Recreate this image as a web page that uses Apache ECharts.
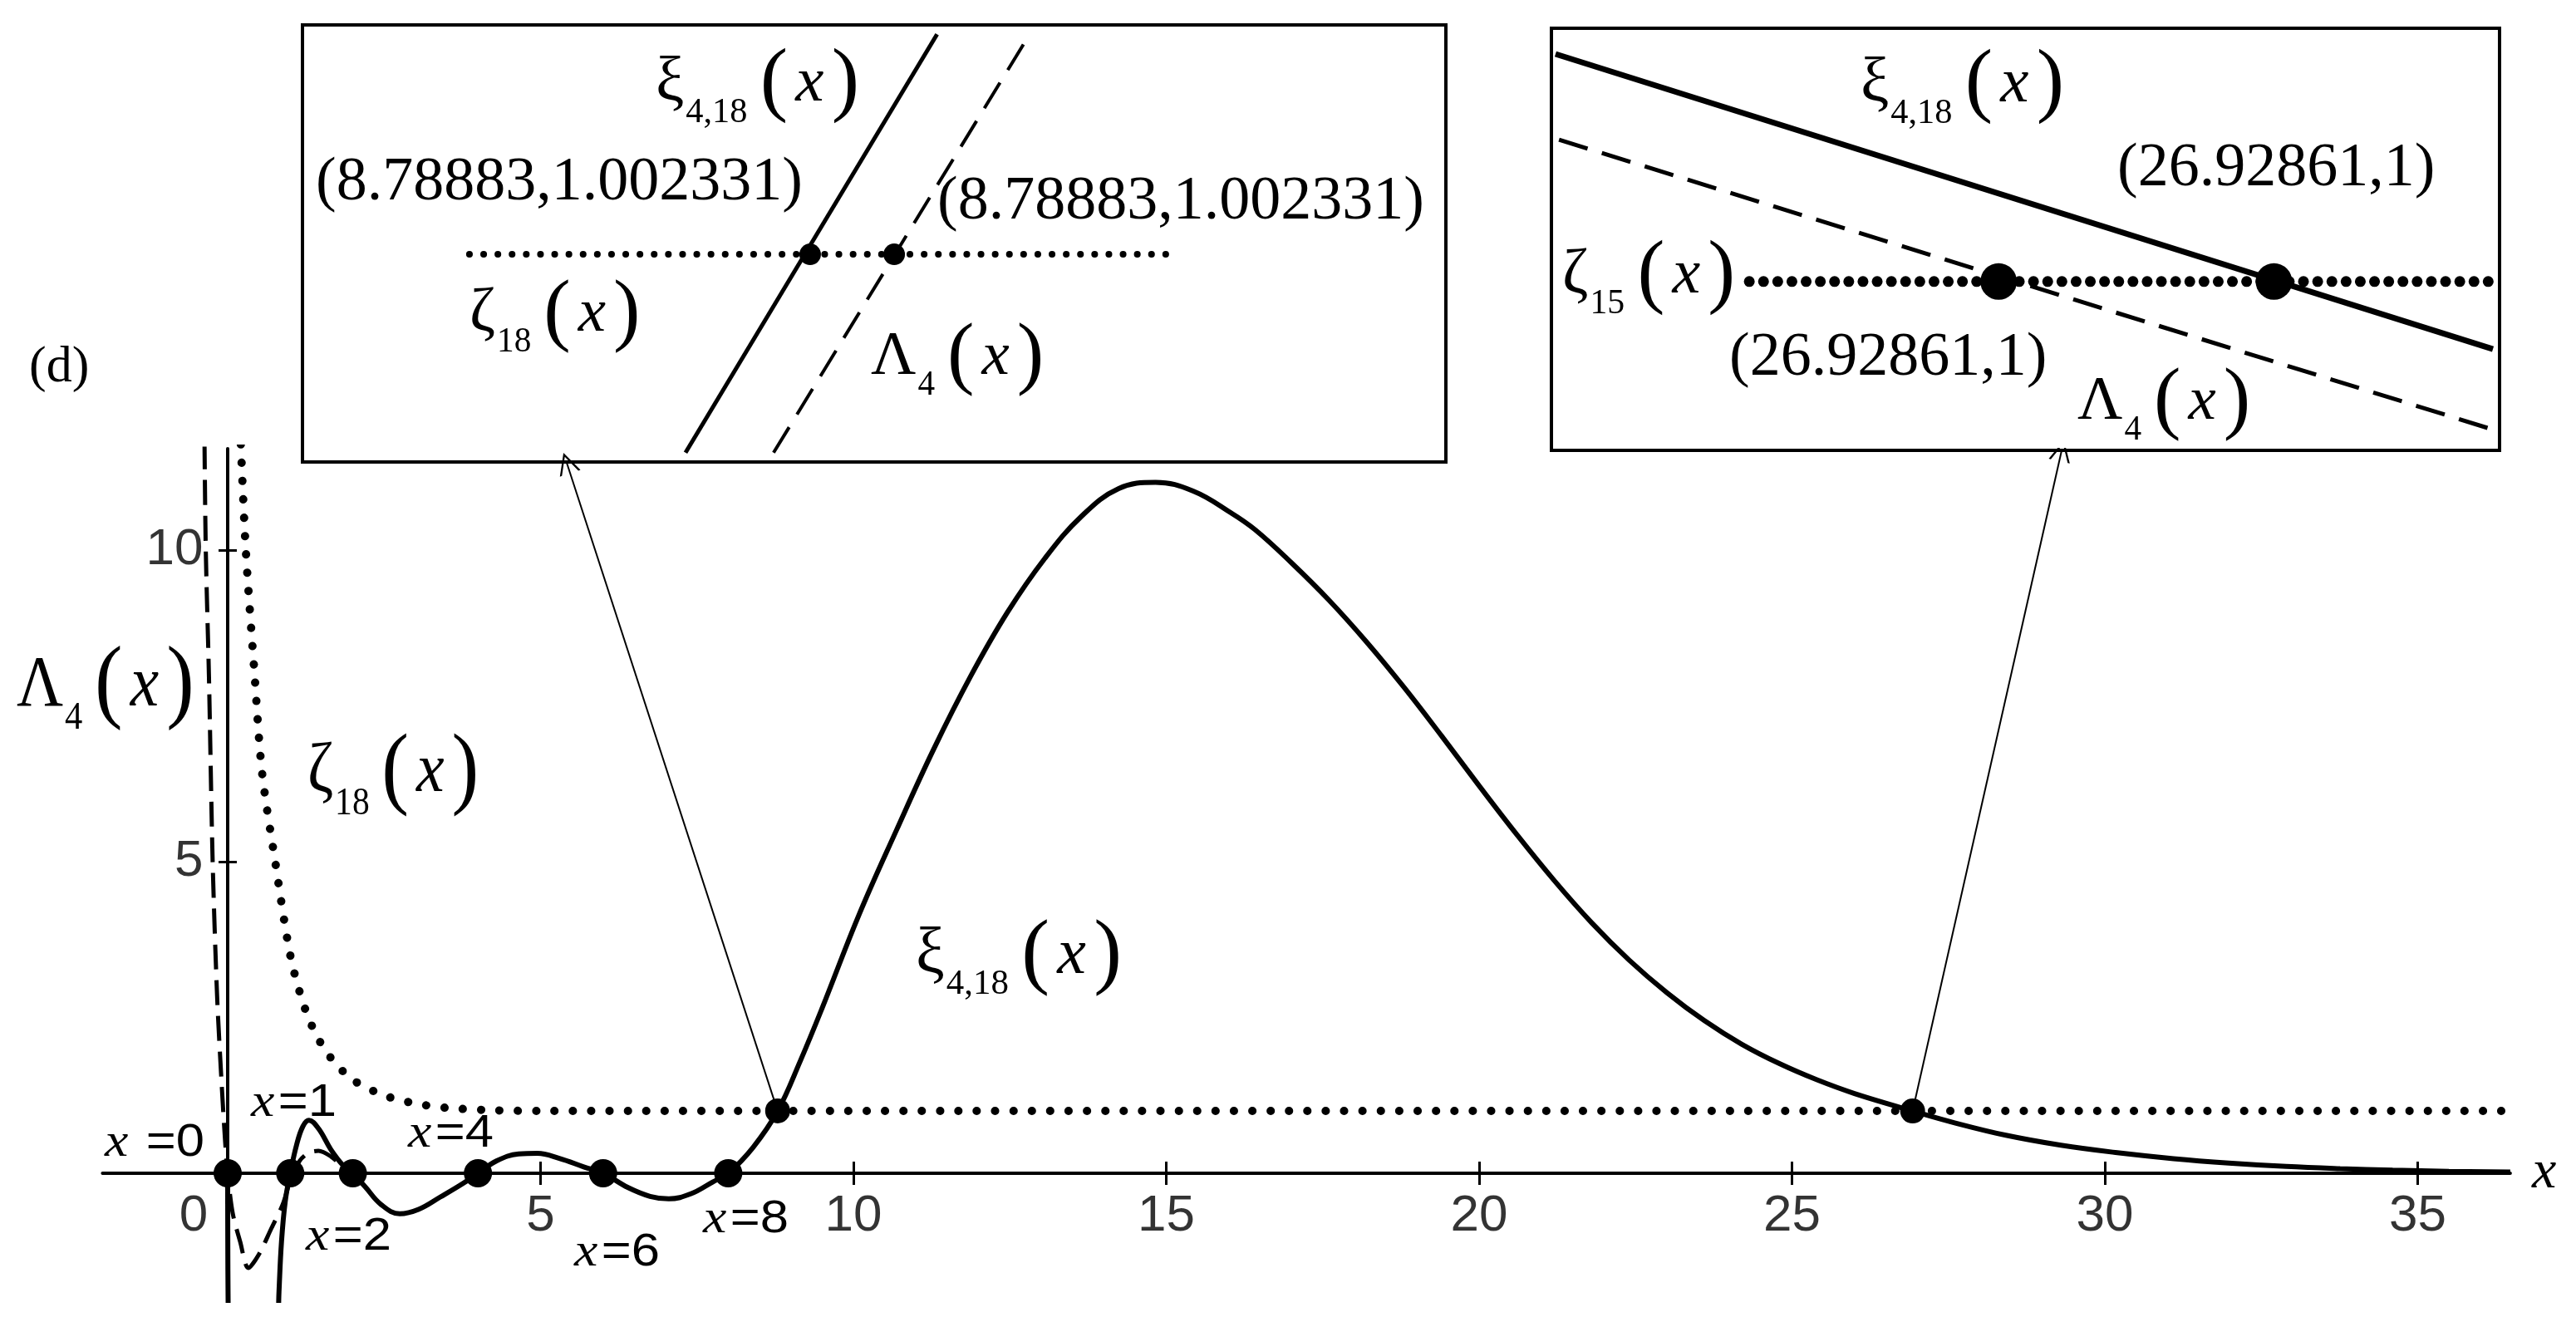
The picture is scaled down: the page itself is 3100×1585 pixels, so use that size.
<!DOCTYPE html>
<html>
<head>
<meta charset="utf-8">
<title>xi 4,18</title>
<script src="https://cdn.jsdelivr.net/npm/echarts@6.0.0/dist/echarts.min.js"></script>
<style>
  html, body { margin: 0; padding: 0; background: #fff; }
  #chart { width: 3100px; height: 1585px; }
</style>
</head>
<body>
<div id="chart"></div>
<script>
// values
const xiCurve = [
  [0, 0], [0.02, -2.6], [0.79, -2.6], [0.82, -1.9], [0.86, -1.1], [0.92, -0.45], [1.0, 0],
  [1.1, 0.45], [1.2, 0.75], [1.3, 0.85], [1.45, 0.72], [1.65, 0.38], [1.85, 0.12], [2.0, 0],
  [2.2, -0.22], [2.45, -0.5], [2.75, -0.65], [3.05, -0.58], [3.4, -0.38], [3.75, -0.17], [4.0, 0],
  [4.3, 0.2], [4.65, 0.31], [4.95, 0.32], [5.3, 0.24], [5.7, 0.1], [6.0, 0],
  [6.4, -0.23], [6.75, -0.37], [7.05, -0.41], [7.4, -0.33], [7.75, -0.14], [8.0, 0],
  [8.4, 0.42], [8.79, 1.0], [9.15, 1.8], [9.5, 2.65], [10.09, 4.15], [10.69, 5.51], [11.28, 6.8],
  [11.87, 7.97], [12.46, 9.0], [13.06, 9.87], [13.65, 10.55], [14.24, 10.99], [14.83, 11.09],
  [15.43, 10.95], [16.02, 10.61], [16.42, 10.33], [17.0, 9.8], [17.6, 9.2], [18.2, 8.53],
  [18.8, 7.8], [19.4, 7.02], [20.0, 6.22], [20.6, 5.44], [21.2, 4.7], [21.8, 4.02],
  [22.4, 3.42], [23.0, 2.9], [23.6, 2.45], [24.2, 2.07], [24.8, 1.76], [25.4, 1.5],
  [26.0, 1.28], [26.93, 1.0], [27.6, 0.81], [28.42, 0.61], [29.3, 0.45], [30.2, 0.33],
  [31.1, 0.235], [31.98, 0.165], [32.9, 0.11], [33.76, 0.075], [34.6, 0.05], [35.5, 0.032],
  [36.48, 0.02]
]
const lambdaCurve = [
  [-0.37, 11.7], [-0.35, 10], [-0.3, 8], [-0.24, 5], [-0.17, 2.87], [-0.1, 1.5], [-0.04, 0.5],
  [0.0, 0], [0.08, -0.64], [0.2, -1.1], [0.33, -1.52], [0.5, -1.3], [0.7, -0.88], [0.88, -0.5],
  [1.0, -0.12], [1.15, 0.2], [1.3, 0.33], [1.45, 0.36], [1.65, 0.27], [1.85, 0.1], [2.05, -0.04]
]
const zetaCurve = [
  [0.21, 11.7], [0.29, 10], [0.43, 8], [0.55, 6.43], [0.76, 5], [1.0, 3.5], [1.2, 2.75],
  [1.4, 2.25], [1.65, 1.85], [2.0, 1.5], [2.5, 1.25], [3.0, 1.12], [3.5, 1.05], [4.3, 1.01],
  [5, 1.0], [36.48, 1.0]
]
const zeroPoints = [[0, 0], [1, 0], [2, 0], [4, 0], [6, 0], [8, 0]]
const crossPoints = [[8.78883, 1.002331], [26.92861, 1]]
const arrowLinks = [
  [[8.78883, 1.002331], [5.42, 11.4]],
  [[26.92861, 1], [29.31, 11.6]]
]
const xTickValues = [5, 10, 15, 20, 25, 30, 35]
const xLabelValues = [0, 5, 10, 15, 20, 25, 30, 35]
const yTickValues = [5, 10]

// inset 1: magnified near x = 8.78883
const inset1Xi = [[8.767, 0.981], [8.811, 1.026]]
const inset1Lambda = [[8.7824, 0.981], [8.8272, 1.026]]
const inset1Zeta = [[8.7292, 1.002331], [8.8532, 1.002331]]
const inset1Points = [[8.7888, 1.002331], [8.8035, 1.002331]]

// inset 2: magnified near x = 26.92861
const inset2Xi = [[26.7013, 1.02695], [26.9979, 0.992]]
const inset2Lambda = [[26.7024, 1.0168], [26.9979, 0.98246]]
const inset2Zeta = [[26.7626, 1], [26.9979, 1]]
const inset2Points = [[26.8415, 1], [26.92861, 1]]

const SERIF = "'Liberation Serif', 'DejaVu Serif', serif"
const SANS = "'Liberation Sans', Arial, sans-serif"
const NARROW = "'Liberation Sans Narrow', 'Liberation Sans', Arial, sans-serif"
const ARROW = 'path://M0,20 L10,0 L20,20 L18,20 L10,4 L2,20 Z'

// Greek letter + subscript + (x)
function fnLabel (left, middle, greek, sub, size, scaleX) {
  return {
    type: 'text',
    x: left,
    y: middle,
    z: 100,
    scaleX: scaleX || 1,
    style: {
      text: '{g|' + greek + '}{s|' + sub + '}{p|(}{i|x}{p|)}',
      align: 'left',
      verticalAlign: 'middle',
      fill: '#000',
      rich: {
        g: { fontSize: size, fontFamily: SERIF, fill: '#000' },
        s: { fontSize: size * 0.55, fontFamily: SERIF, fill: '#000', padding: [size * 0.9, 6, 0, 2] },
        p: { fontSize: size * 1.3, fontFamily: SERIF, fill: '#000', padding: [0, size * 0.12] },
        i: { fontSize: size, fontFamily: SERIF, fontStyle: 'italic', fill: '#000' }
      }
    }
  }
}

function plainLabel (left, middle, text, size) {
  return {
    type: 'text',
    x: left,
    y: middle,
    z: 100,
    style: { text: text, align: 'left', verticalAlign: 'middle', fill: '#000', fontSize: size, fontFamily: SERIF }
  }
}

function eqLabel (left, middle, text) {
  return {
    type: 'text',
    x: left,
    y: middle,
    z: 100,
    scaleX: 1.1,
    style: {
      text: '{i|x}{e|' + text + '}',
      align: 'left',
      verticalAlign: 'middle',
      fill: '#000',
      rich: {
        i: { fontSize: 58, fontFamily: SERIF, fontStyle: 'italic', fill: '#000' },
        e: { fontSize: 56, fontFamily: NARROW, fill: '#000', padding: [0, 0, 0, 4] }
      }
    }
  }
}

const chart = echarts.init(document.getElementById('chart'))

const axisColor = '#000'
const tickFont = { fontSize: 62, fontFamily: SANS, color: '#000' }

const option = {
  backgroundColor: '#fff',
  animation: false,
  grid: [
    { left: 123.4, top: 540, width: 2897.5, height: 1025, outerBoundsMode: 'none' },
    { left: 364, top: 30, width: 1376, height: 526, show: true, backgroundColor: '#fff', borderColor: '#000', borderWidth: 4, outerBoundsMode: 'none' },
    { left: 1867, top: 34, width: 1141, height: 508, show: true, backgroundColor: '#fff', borderColor: '#000', borderWidth: 4, outerBoundsMode: 'none' }
  ],
  xAxis: [
    {
      gridIndex: 0,
      type: 'value',
      min: -2.0,
      max: 36.48,
      splitLine: { show: false },
      axisLine: { onZero: true, onZeroAxisIndex: 0, lineStyle: { color: axisColor, width: 4 } },
      axisTick: { show: true, customValues: xTickValues, length: 14, lineStyle: { color: axisColor, width: 3 } },
      axisLabel: { show: false },
      name: 'x',
      nameLocation: 'end',
      nameGap: 26,
      nameTextStyle: { fontFamily: SERIF, fontStyle: 'italic', fontSize: 66, color: '#000' }
    },
    {
      // upper half of the x ticks
      gridIndex: 0,
      type: 'value',
      position: 'top',
      min: -2.0,
      max: 36.48,
      splitLine: { show: false },
      axisLine: { show: false, onZero: true, onZeroAxisIndex: 0 },
      axisTick: { show: true, customValues: xTickValues, length: 14, lineStyle: { color: axisColor, width: 3 } },
      axisLabel: { show: false }
    },
    { gridIndex: 1, type: 'value', min: 8.70, max: 8.90, show: false },
    { gridIndex: 2, type: 'value', min: 26.70, max: 27.00, show: false }
  ],
  yAxis: [
    {
      gridIndex: 0,
      type: 'value',
      min: -2.04,
      max: 11.63,
      splitLine: { show: false },
      axisLine: { onZero: true, onZeroAxisIndex: 0, lineStyle: { color: axisColor, width: 4 } },
      axisTick: { show: true, customValues: yTickValues, length: 11, lineStyle: { color: axisColor, width: 3 } },
      axisLabel: { show: false }
    },
    {
      gridIndex: 0,
      type: 'value',
      position: 'right',
      min: -2.04,
      max: 11.63,
      splitLine: { show: false },
      axisLine: { show: false, onZero: true, onZeroAxisIndex: 0 },
      axisTick: { show: true, customValues: yTickValues, length: 11, lineStyle: { color: axisColor, width: 3 } },
      axisLabel: { show: false }
    },
    { gridIndex: 1, type: 'value', min: 0.98, max: 1.027, show: false },
    { gridIndex: 2, type: 'value', min: 0.98, max: 1.03, show: false }
  ],
  series: [
    {
      name: 'zeta18',
      type: 'line',
      xAxisIndex: 0,
      yAxisIndex: 0,
      data: zetaCurve,
      smooth: 0.3,
      symbol: 'none',
      silent: true,
      lineStyle: { color: '#000', width: 10, type: [0.1, 22], cap: 'round' },
      z: 2
    },
    {
      name: 'lambda4',
      type: 'line',
      xAxisIndex: 0,
      yAxisIndex: 0,
      data: lambdaCurve,
      smooth: 0.3,
      symbol: 'none',
      silent: true,
      lineStyle: { color: '#000', width: 5, type: [30, 13] },
      z: 3
    },
    {
      name: 'xi418',
      type: 'line',
      xAxisIndex: 0,
      yAxisIndex: 0,
      data: xiCurve,
      smooth: 0.4,
      symbol: 'none',
      silent: true,
      lineStyle: { color: '#000', width: 6 },
      z: 4
    },
    {
      type: 'scatter',
      xAxisIndex: 0,
      yAxisIndex: 0,
      data: zeroPoints,
      symbolSize: 34,
      silent: true,
      itemStyle: { color: '#000', opacity: 1 },
      z: 5
    },
    {
      type: 'scatter',
      xAxisIndex: 0,
      yAxisIndex: 0,
      data: crossPoints,
      symbolSize: 30,
      silent: true,
      itemStyle: { color: '#000', opacity: 1 },
      z: 5
    },
    {
      // x tick labels, placed through the axes at y = 0
      type: 'scatter',
      xAxisIndex: 0,
      yAxisIndex: 0,
      data: xLabelValues.map(function (v) {
        return v === 0 ? { value: [v, 0], label: { offset: [-41, 0] } } : [v, 0]
      }),
      symbolSize: 1,
      silent: true,
      itemStyle: { color: 'rgba(0,0,0,0)' },
      label: Object.assign({ show: true, position: 'bottom', distance: 20, formatter: function (p) { return String(p.value[0]) } }, tickFont),
      z: 1
    },
    {
      // y tick labels, placed through the axes at x = 0
      type: 'scatter',
      xAxisIndex: 0,
      yAxisIndex: 0,
      data: yTickValues.map(function (v) { return [0, v] }),
      symbolSize: 1,
      silent: true,
      itemStyle: { color: 'rgba(0,0,0,0)' },
      label: Object.assign({ show: true, position: 'left', distance: 29, formatter: function (p) { return String(p.value[1]) } }, tickFont),
      z: 1
    },
    {
      type: 'lines',
      coordinateSystem: 'cartesian2d',
      xAxisIndex: 0,
      yAxisIndex: 0,
      data: arrowLinks.map(function (c) { return { coords: c } }),
      symbol: ['none', ARROW],
      symbolSize: [1, 26],
      silent: true,
      lineStyle: { color: '#000', width: 2, opacity: 1, curveness: 0 },
      z: 6
    },
    // inset 1
    {
      type: 'line', xAxisIndex: 2, yAxisIndex: 2, data: inset1Zeta, symbol: 'none', silent: true,
      lineStyle: { color: '#000', width: 8, type: [0.1, 17], cap: 'round' }, z: 10
    },
    {
      type: 'line', xAxisIndex: 2, yAxisIndex: 2, data: inset1Lambda, symbol: 'none', silent: true,
      lineStyle: { color: '#000', width: 4, type: [36, 18] }, z: 11
    },
    {
      type: 'line', xAxisIndex: 2, yAxisIndex: 2, data: inset1Xi, symbol: 'none', silent: true,
      lineStyle: { color: '#000', width: 5 }, z: 12
    },
    {
      type: 'scatter', xAxisIndex: 2, yAxisIndex: 2, data: inset1Points, symbolSize: 26, silent: true,
      itemStyle: { color: '#000', opacity: 1 }, z: 13
    },
    // inset 2
    {
      type: 'line', xAxisIndex: 3, yAxisIndex: 3, data: inset2Zeta, symbol: 'none', silent: true,
      lineStyle: { color: '#000', width: 13, type: [0.1, 17], cap: 'round' }, z: 10
    },
    {
      type: 'line', xAxisIndex: 3, yAxisIndex: 3, data: inset2Lambda, symbol: 'none', silent: true,
      lineStyle: { color: '#000', width: 5, type: [36, 18] }, z: 11
    },
    {
      type: 'line', xAxisIndex: 3, yAxisIndex: 3, data: inset2Xi, symbol: 'none', silent: true,
      lineStyle: { color: '#000', width: 7 }, z: 12
    },
    {
      type: 'scatter', xAxisIndex: 3, yAxisIndex: 3, data: inset2Points, symbolSize: 44, silent: true,
      itemStyle: { color: '#000', opacity: 1 }, z: 13
    }
  ],
  graphic: [
    plainLabel(35, 443, '(d)', 62),
    // main plot
    fnLabel(20, 826, 'Λ', '4', 86, 0.9),
    fnLabel(370, 930, 'ζ', '18', 84, 0.9),
    fnLabel(1102, 1150, 'ξ', '4,18', 78),
    eqLabel(126, 1376, ' =0'),
    eqLabel(302, 1328, '=1'),
    eqLabel(368, 1489, '=2'),
    eqLabel(491, 1365, '=4'),
    eqLabel(691, 1508, '=6'),
    eqLabel(846, 1468, '=8'),
    // inset 1
    fnLabel(789, 101, 'ξ', '4,18', 77),
    fnLabel(565, 378, 'ζ', '18', 75),
    fnLabel(1048, 430, 'Λ', '4', 75),
    plainLabel(380, 221, '(8.78883,1.002331)', 74),
    plainLabel(1128, 244, '(8.78883,1.002331)', 74),
    // inset 2
    fnLabel(2239, 102, 'ξ', '4,18', 77),
    fnLabel(1880, 332, 'ζ', '15', 76),
    fnLabel(2500, 484, 'Λ', '4', 75),
    plainLabel(2548, 204, '(26.92861,1)', 74),
    plainLabel(2081, 432, '(26.92861,1)', 74)
  ]
}

chart.setOption(option)
</script>
</body>
</html>
